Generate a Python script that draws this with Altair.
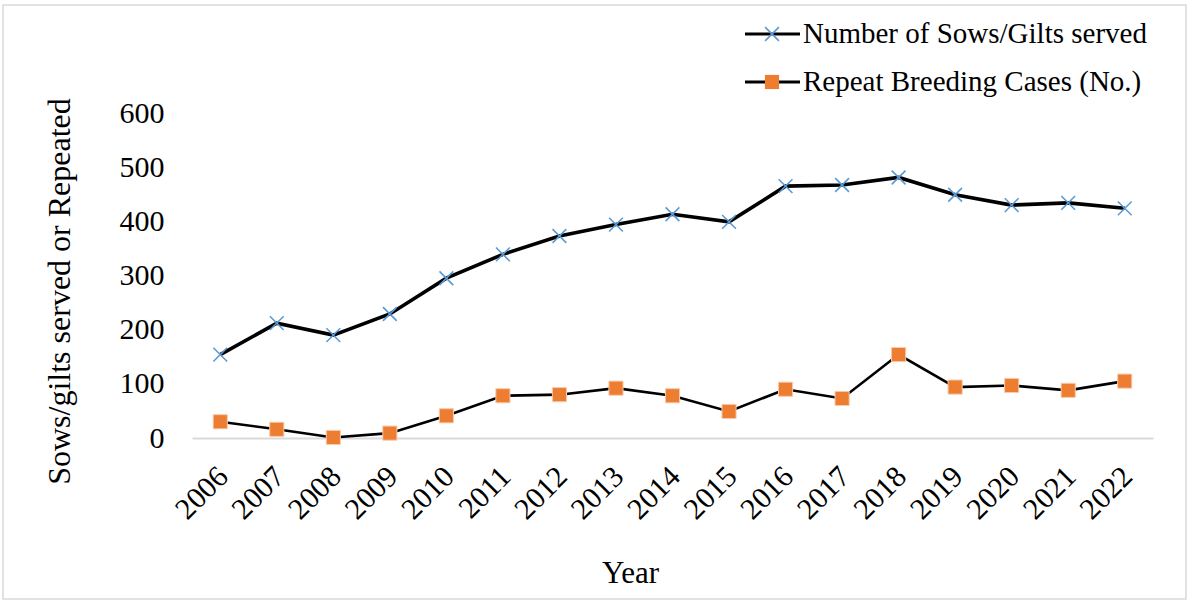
import altair as alt
import pandas as pd

# Yearly breeding records
years = [str(y) for y in range(2006, 2023)]
sows_served = [154, 212, 190, 229, 295, 339, 373, 394, 413, 399, 465, 467, 481, 449, 430, 434, 424]
repeat_cases = [30, 16, 1, 9, 41, 78, 80, 92, 78, 49, 90, 73, 154, 94, 97, 88, 105]

SERIES_A = "Number of Sows/Gilts served"
SERIES_B = "Repeat Breeding Cases (No.)"

FONT = "Liberation Serif"
BLUE = "#5b9bd5"
ORANGE = "#ed7d31"
GRID_GREY = "#d9d9d9"
X_MARK = "M-1,-1L1,1M-1,1L1,-1"

df_a = pd.DataFrame({"Year": years, "value": sows_served, "series": SERIES_A})
df_b = pd.DataFrame({"Year": years, "value": repeat_cases, "series": SERIES_B})

x_enc = alt.X(
    "Year:O",
    scale=alt.Scale(type="point", padding=0.5),
    axis=alt.Axis(
        title="Year",
        labelAngle=-45,
        labelFontSize=30,
        labelFont=FONT,
        labelColor="black",
        labelPadding=23,
        labelOffset=-8,
        ticks=False,
        domainColor=GRID_GREY,
        domainWidth=2,
        grid=False,
        titleFont=FONT,
        titleFontSize=31,
        titleFontWeight="normal",
        titleColor="black",
        titleX=438,
        titleY=135,
        titleBaseline="middle",
        titleAlign="center",
    ),
)
y_enc = alt.Y(
    "value:Q",
    scale=alt.Scale(domain=[0, 600]),
    axis=alt.Axis(
        title="Sows/gilts served or Repeated",
        values=[0, 100, 200, 300, 400, 500, 600],
        labelFontSize=30,
        labelFont=FONT,
        labelColor="black",
        labelPadding=28,
        ticks=False,
        domain=False,
        grid=False,
        titleFont=FONT,
        titleFontSize=32,
        titleFontWeight="normal",
        titleColor="black",
        titleAngle=-90,
        titleX=-133,
        titleY=178,
        titleBaseline="middle",
        titleAlign="center",
    ),
)

line_a = alt.Chart(df_a).mark_line(color="black", strokeWidth=3.6).encode(x=x_enc, y=y_enc)
pts_a = alt.Chart(df_a).mark_point(
    shape=X_MARK, color=BLUE, size=190, strokeWidth=1.6, filled=False, opacity=1
).encode(x=x_enc, y=y_enc)

line_b = alt.Chart(df_b).mark_line(color="black", strokeWidth=2.6).encode(x=x_enc, y=y_enc)
pts_b = alt.Chart(df_b).mark_point(
    shape="square", color=ORANGE, size=200, filled=True, opacity=1,
    stroke="#f8cbad", strokeWidth=1
).encode(x=x_enc, y=y_enc)

# Legend drawn by hand: black line with the series marker in the middle
legend_a_line = alt.Chart().mark_rule(color="black", strokeWidth=3).encode(
    x=alt.value(553), x2=alt.value(608), y=alt.value(-79)
)
legend_a_pt = alt.Chart().mark_point(
    shape=X_MARK, color=BLUE, size=190, strokeWidth=1.6, filled=False, opacity=1
).encode(x=alt.value(580), y=alt.value(-79))
legend_a_txt = alt.Chart().mark_text(
    text=SERIES_A, font=FONT, fontSize=29, align="left", baseline="middle", color="black"
).encode(x=alt.value(611), y=alt.value(-79))

legend_b_line = alt.Chart().mark_rule(color="black", strokeWidth=3).encode(
    x=alt.value(553), x2=alt.value(608), y=alt.value(-31)
)
legend_b_pt = alt.Chart().mark_point(
    shape="square", color=ORANGE, size=200, filled=True, opacity=1
).encode(x=alt.value(580), y=alt.value(-31))
legend_b_txt = alt.Chart().mark_text(
    text=SERIES_B, font=FONT, fontSize=29, align="left", baseline="middle", color="black"
).encode(x=alt.value(611), y=alt.value(-31))

# Thin grey frame around the whole figure
frame = alt.Chart().mark_rect(
    fill=None, stroke=GRID_GREY, strokeWidth=1.5, clip=False
).encode(x=alt.value(-189), x2=alt.value(994), y=alt.value(-108), y2=alt.value(486))

chart = alt.layer(
    frame,
    line_a, pts_a, line_b, pts_b,
    legend_a_line, legend_a_pt, legend_a_txt,
    legend_b_line, legend_b_pt, legend_b_txt,
).properties(
    width=961,
    height=325,
    autosize=alt.AutoSizeParams(type="none"),
    padding={"left": 192, "top": 113, "right": 34, "bottom": 162},
    background="white",
).configure_view(stroke=None)

chart.save("out.html", embed_options={"renderer": "svg", "actions": False})
